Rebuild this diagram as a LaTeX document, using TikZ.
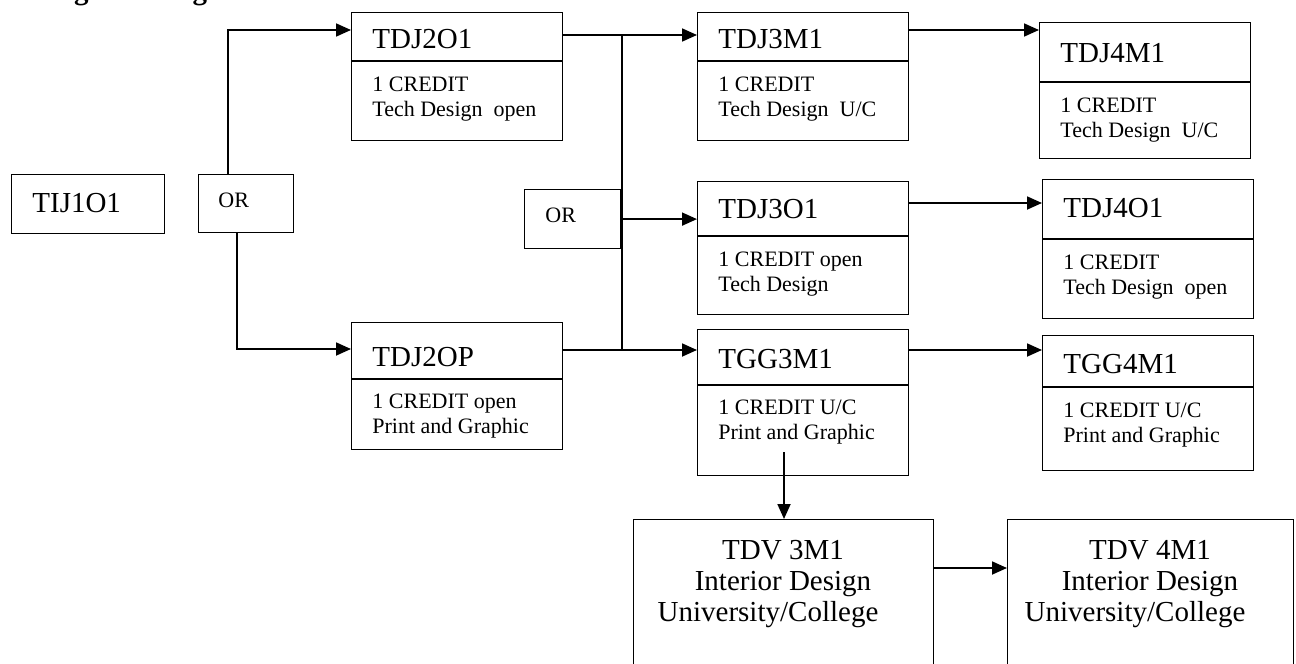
\documentclass[tikz,border=0pt]{standalone}
\usepackage{fontspec}
\setmainfont{Liberation Serif}
\usetikzlibrary{arrows.meta}
\begin{document}
\begin{tikzpicture}[x=0.5pt,y=-0.5pt,
    course/.style={draw,line width=0.6pt,inner sep=0pt,anchor=north west},
    code/.style={anchor=base west,inner sep=0pt,font=\fontsize{14.5}{17}\selectfont},
    credit/.style={anchor=north west,inner sep=0pt,align=left,font=\fontsize{11}{12.5}\selectfont},
    link/.style={line width=0.9pt,-{Triangle[length=7.5pt,width=6.5pt]}}]
                \useasboundingbox (0,0) rectangle (1296,664);
                \clip (0,0) rectangle (1296,664);
                %titulo
                \node[anchor=base west,inner sep=0pt,font=\bfseries\fontsize{14.5}{17}\selectfont] (heading) at (-38,-1) {Technological Design};
                %primer nivel
                \node[course,minimum width=76.5pt,minimum height=29.5pt] (tij) at (11,174) {};
                \node[code] (tijcode) at (32,212) {TIJ1O1};
                \node[course,minimum width=47.5pt,minimum height=29pt] (or1) at (198,174) {};
                \node[code,font=\fontsize{11}{13}\selectfont] (or1text) at (218,207) {OR};
                %segundo nivel
                \node[course,minimum width=105.5pt,minimum height=64pt] (tdj2o1) at (351,12) {};
                \draw[line width=0.6pt] (tdj2o1.west |- 0,61) -- (tdj2o1.east |- 0,61);
                \node[code] (tdj2o1code) at (372,48) {TDJ2O1};
                \node[credit] (tdj2o1text) at (372,77) {1 CREDIT\\Tech Design~ open};
                \node[course,minimum width=105.5pt,minimum height=63.5pt] (tdj2op) at (351,322) {};
                \draw[line width=0.6pt] (tdj2op.west |- 0,379) -- (tdj2op.east |- 0,379);
                \node[code] (tdj2opcode) at (372,366) {TDJ2OP};
                \node[credit] (tdj2optext) at (372,394) {1 CREDIT open\\Print and Graphic};
                \node[course,minimum width=48pt,minimum height=29.5pt] (or2) at (524,189) {};
                \node[code,font=\fontsize{11}{13}\selectfont] (or2text) at (545,222) {OR};
                %tercer nivel
                \node[course,minimum width=105.5pt,minimum height=64pt] (tdj3m1) at (697,12) {};
                \draw[line width=0.6pt] (tdj3m1.west |- 0,61) -- (tdj3m1.east |- 0,61);
                \node[code] (tdj3m1code) at (718,48) {TDJ3M1};
                \node[credit] (tdj3m1text) at (718,77) {1 CREDIT\\Tech Design~ U/C};
                \node[course,minimum width=105.5pt,minimum height=66.5pt] (tdj3o1) at (697,181) {};
                \draw[line width=0.6pt] (tdj3o1.west |- 0,236) -- (tdj3o1.east |- 0,236);
                \node[code] (tdj3o1code) at (718,218) {TDJ3O1};
                \node[credit] (tdj3o1text) at (718,252) {1 CREDIT open\\Tech Design};
                \node[course,minimum width=105.5pt,minimum height=73pt] (tgg3m1) at (697,329) {};
                \draw[line width=0.6pt] (tgg3m1.west |- 0,385) -- (tgg3m1.east |- 0,385);
                \node[code] (tgg3m1code) at (718,368) {TGG3M1};
                \node[credit] (tgg3m1text) at (718,400) {1 CREDIT U/C\\Print and Graphic};
                %cuarto nivel
                \node[course,minimum width=105.5pt,minimum height=68pt] (tdj4m1) at (1039,22) {};
                \draw[line width=0.6pt] (tdj4m1.west |- 0,82) -- (tdj4m1.east |- 0,82);
                \node[code] (tdj4m1code) at (1060,62) {TDJ4M1};
                \node[credit] (tdj4m1text) at (1060,98) {1 CREDIT\\Tech Design~ U/C};
                \node[course,minimum width=105.5pt,minimum height=69.5pt] (tdj4o1) at (1042,179) {};
                \draw[line width=0.6pt] (tdj4o1.west |- 0,239) -- (tdj4o1.east |- 0,239);
                \node[code] (tdj4o1code) at (1063,217) {TDJ4O1};
                \node[credit] (tdj4o1text) at (1063,255) {1 CREDIT\\Tech Design~ open};
                \node[course,minimum width=105.5pt,minimum height=67.5pt] (tgg4m1) at (1042,335) {};
                \draw[line width=0.6pt] (tgg4m1.west |- 0,387) -- (tgg4m1.east |- 0,387);
                \node[code] (tgg4m1code) at (1063,373) {TGG4M1};
                \node[credit] (tgg4m1text) at (1063,403) {1 CREDIT U/C\\Print and Graphic};
                %diseno interior
                \node[course,minimum width=150pt,minimum height=100pt] (tdv3m1) at (633,519) {};
                \node[anchor=north,inner sep=0pt,align=center,font=\fontsize{14.5}{15.5}\selectfont] (tdv3m1text) at (783,540) {TDV 3M1\\Interior Design\\University/College\hspace*{15pt}};
                \node[course,minimum width=143pt,minimum height=100pt] (tdv4m1) at (1007,519) {};
                \node[anchor=north,inner sep=0pt,align=center,font=\fontsize{14.5}{15.5}\selectfont] (tdv4m1text) at (1150,540) {TDV 4M1\\Interior Design\\University/College\hspace*{15pt}};
                %flechas
                \coordinate (up1) at (228,30);
                \coordinate (dn1) at (237,349);
                \coordinate (bus) at (622,35);
                \coordinate (busend) at (622,350);
                \coordinate (rowa) at (0,30);
                \coordinate (rowb) at (0,203);
                \coordinate (rowc) at (0,350);
                \coordinate (rowd) at (0,568);
                \coordinate (drop) at (784,452);
                \draw[link] (or1.north -| up1) -- (up1) -- (up1 -| tdj2o1.west);
                \draw[link] (or1.south -| dn1) -- (dn1) -- (dn1 -| tdj2op.west);
                \draw[link] (tdj2o1.east |- bus) -- (bus -| tdj3m1.west);
                \draw[line width=0.9pt] (bus) -- (busend);
                \draw[link] (tdj2op.east |- busend) -- (busend -| tgg3m1.west);
                \draw[link] (or2.east -| bus) -- (or2.east -| tdj3o1.west);
                \draw[link] (tdj3m1.east |- rowa) -- (tdj4m1.west |- rowa);
                \draw[link] (tdj3o1.east |- rowb) -- (tdj4o1.west |- rowb);
                \draw[link] (tgg3m1.east |- rowc) -- (tgg4m1.west |- rowc);
                \draw[link] (drop) -- (drop |- tdv3m1.north);
                \draw[link] (tdv3m1.east |- rowd) -- (tdv4m1.west |- rowd);
            \end{tikzpicture}
\end{document}
